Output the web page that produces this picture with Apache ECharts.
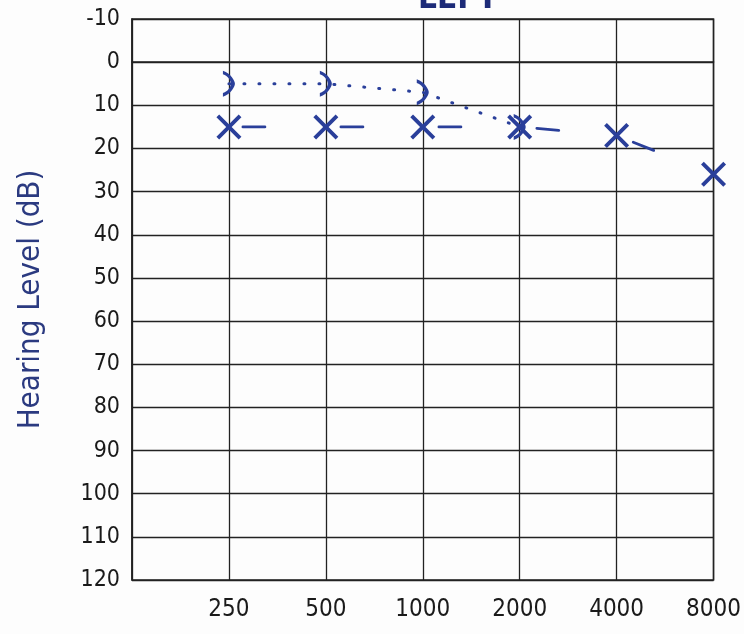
<!DOCTYPE html>
<html><head><meta charset="utf-8">
<script src="https://cdn.jsdelivr.net/npm/echarts@6/dist/echarts.min.js"></script>
<style>html,body{margin:0;padding:0;background:#fdfdfd}#c{width:744px;height:634px}</style>
</head><body><div id="c"></div>
<script>
const freqs = ['125','250','500','1000','2000','4000','8000'];
const airLeft = [null, 15, 15, 15, 15, 17, 26];
const boneLeft = [null, 5, 5, 7, 15, null, null];
const yMin = -10, yMax = 120, yStep = 10;

const ink = '#2a3f9a';
const font = "'Liberation Sans Narrow','DejaVu Sans Condensed','Liberation Sans',sans-serif";
const xPath = 'path://M0,1.1 L1.1,0 L5,3.9 L8.9,0 L10,1.1 L6.1,5 L10,8.9 L8.9,10 L5,6.1 L1.1,10 L0,8.9 L3.9,5 Z';
const brPath = 'path://M0,0 C6,1 9,4 9,5 C9,6 6,9 0,10 L0,8.6 C4,8 6,6 6,5 C6,4 4,2 0,1.4 Z';

const chart = echarts.init(document.getElementById('c'));
chart.setOption({
  backgroundColor: '#fdfdfd',
  animation: false,
  graphic: [{
    type: 'text', left: 418, top: -17,
    style: { text: 'LEFT', font: "bold 33px " + font, fill: '#1d2b78' }
  }],
  grid: { left: 132, right: 22, top: 19, bottom: 54, show: true, borderColor: '#222', borderWidth: 1.5, backgroundColor: 'transparent' },
  xAxis: {
    type: 'category', data: freqs, boundaryGap: false,
    axisLine: { lineStyle: { color: '#222', width: 1.5 } },
    axisTick: { show: false },
    splitLine: { show: true, lineStyle: { color: '#222', width: 1.3 } },
    axisLabel: { formatter: (v, i) => i === 0 ? '' : v, color: '#1a1a1a', fontSize: 24, fontFamily: font, margin: 18 }
  },
  yAxis: {
    type: 'value', inverse: true, min: yMin, max: yMax, interval: yStep,
    name: 'Hearing Level (dB)', nameLocation: 'middle', nameGap: 86, nameRotate: 90,
    nameTextStyle: { color: '#2b3a80', fontSize: 31, fontFamily: font },
    axisLine: { show: true, lineStyle: { color: '#222', width: 1.5 } },
    axisTick: { show: false },
    splitLine: { show: true, lineStyle: { color: '#222', width: 1.3 } },
    axisLabel: { color: '#1a1a1a', fontSize: 23, fontFamily: font, margin: 12 }
  },
  series: [
    {
      name: 'Air', type: 'line', data: airLeft, connectNulls: false,
      symbol: xPath, symbolSize: 25,
      itemStyle: { color: ink },
      lineStyle: { color: ink, width: 2.8, type: [22, 76], dashOffset: 84, cap: 'round' },
      z: 5
    },
    {
      name: 'Bone', type: 'line', data: boneLeft,
      symbol: brPath, symbolSize: [12, 26], symbolOffset: [0, 0],
      itemStyle: { color: ink },
      lineStyle: { color: ink, width: 3, type: [1, 14], cap: 'round' },
      z: 5
    }
  ]
});
</script></body></html>
